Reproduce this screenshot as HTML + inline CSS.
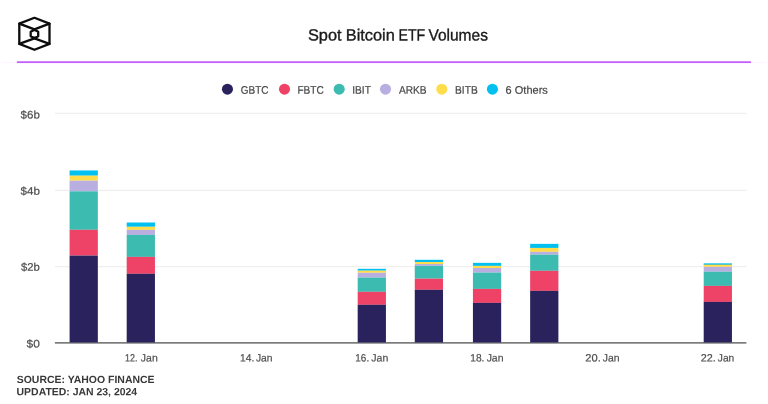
<!DOCTYPE html>
<html lang="en"><head><meta charset="utf-8"><title>Spot Bitcoin ETF Volumes</title>
<style>html,body{margin:0;padding:0;background:#fff;}body{width:768px;height:404px;overflow:hidden;}svg{display:block;}text{font-family:"Liberation Sans",Arial,sans-serif;}</style></head><body>
<svg width="768" height="404" viewBox="0 0 768 404">
<rect width="768" height="404" fill="#fff"/>
<rect x="1.5" y="62" width="765" height="1" fill="#fcf5fe"/>
<rect x="16.9" y="61.25" width="734" height="1.8" fill="#c45efd"/>
<g fill="none" stroke="#0d0d0d" stroke-width="2.3" stroke-linejoin="round" stroke-linecap="round">
<path d="M34.45 17.8 L49.5 23.6 L49.5 43.9 L34.45 49.8 L19.3 43.9 L19.3 23.6 Z"/>
<path d="M19.3 23.6 L34.45 29.3 L49.5 23.6"/>
<path d="M19.3 43.9 L34.45 38.4 L49.5 43.9"/>
<path d="M34.45 29.8 L38.2 31.7 L38.2 36.2 L34.45 38.1 L30.7 36.2 L30.7 31.7 Z"/>
</g>
<text y="40.5" transform="rotate(0.05 398 40.5)" font-size="16.2" fill="#1a1a1a" stroke="#1a1a1a" stroke-width="0.35"><tspan x="307.88" textLength="33.67" lengthAdjust="spacingAndGlyphs">Spot</tspan> <tspan x="345.78" textLength="49.06" lengthAdjust="spacingAndGlyphs">Bitcoin</tspan> <tspan x="398.50" textLength="26.79" lengthAdjust="spacingAndGlyphs">ETF</tspan> <tspan x="428.42" textLength="59.52" lengthAdjust="spacingAndGlyphs">Volumes</tspan></text>
<circle cx="227.45" cy="89.2" r="5.55" fill="#2a225d"/>
<text y="93.8" transform="rotate(0.05 240.8 93.8)" font-size="11" fill="#464646" stroke="#464646" stroke-width="0.2" x="240.83" textLength="27.62" lengthAdjust="spacingAndGlyphs">GBTC</text>
<circle cx="284.5" cy="89.2" r="5.55" fill="#ee4266"/>
<text y="93.8" transform="rotate(0.05 297.5 93.8)" font-size="11" fill="#464646" stroke="#464646" stroke-width="0.2" x="297.47" textLength="26.24" lengthAdjust="spacingAndGlyphs">FBTC</text>
<circle cx="339.2" cy="89.2" r="5.55" fill="#3cbbb1"/>
<text y="93.8" transform="rotate(0.05 352.3 93.8)" font-size="11" fill="#464646" stroke="#464646" stroke-width="0.2" x="352.30" textLength="18.49" lengthAdjust="spacingAndGlyphs">IBIT</text>
<circle cx="385.5" cy="89.2" r="5.55" fill="#b8aee0"/>
<text y="93.8" transform="rotate(0.05 398.9 93.8)" font-size="11" fill="#464646" stroke="#464646" stroke-width="0.2" x="398.88" textLength="27.73" lengthAdjust="spacingAndGlyphs">ARKB</text>
<circle cx="441.8" cy="89.2" r="5.55" fill="#ffdc4a"/>
<text y="93.8" transform="rotate(0.05 455.1 93.8)" font-size="11" fill="#464646" stroke="#464646" stroke-width="0.2" x="455.09" textLength="22.58" lengthAdjust="spacingAndGlyphs">BITB</text>
<circle cx="492.45" cy="89.2" r="5.55" fill="#00c0f0"/>
<text y="93.8" transform="rotate(0.05 505.6 93.8)" font-size="11" fill="#464646" stroke="#464646" stroke-width="0.2" x="505.62" textLength="42.18" lengthAdjust="spacingAndGlyphs">6 Others</text>
<rect x="54.9" y="112.8" width="691.5" height="1" fill="#ececec"/>
<rect x="54.9" y="189.8" width="691.5" height="1" fill="#ececec"/>
<rect x="54.9" y="266.2" width="691.5" height="1" fill="#ececec"/>
<text y="118.6" transform="rotate(0.05 20.6 118.6)" font-size="11" fill="#4e4e4e" stroke="#4e4e4e" stroke-width="0.2" x="20.60" textLength="19.26" lengthAdjust="spacingAndGlyphs">$6b</text>
<text y="194.65" transform="rotate(0.05 20.6 194.65)" font-size="11" fill="#4e4e4e" stroke="#4e4e4e" stroke-width="0.2" x="20.59" textLength="19.36" lengthAdjust="spacingAndGlyphs">$4b</text>
<text y="270.65" transform="rotate(0.05 21.0 270.65)" font-size="11" fill="#4e4e4e" stroke="#4e4e4e" stroke-width="0.2" x="20.99" textLength="18.83" lengthAdjust="spacingAndGlyphs">$2b</text>
<text y="347.6" transform="rotate(0.05 26.6 347.6)" font-size="11" fill="#4e4e4e" stroke="#4e4e4e" stroke-width="0.2" x="26.64" textLength="13.27" lengthAdjust="spacingAndGlyphs">$0</text>
<rect x="54.9" y="342.15" width="691.5" height="1.45" fill="#666"/>
<rect x="69.59" y="170.45" width="28.25" height="5.25" fill="#00c0f0"/>
<rect x="69.59" y="175.70" width="28.25" height="5.00" fill="#ffdc4a"/>
<rect x="69.59" y="180.70" width="28.25" height="10.60" fill="#b8aee0"/>
<rect x="69.59" y="191.30" width="28.25" height="38.50" fill="#3cbbb1"/>
<rect x="69.59" y="229.80" width="28.25" height="25.80" fill="#ee4266"/>
<rect x="69.59" y="255.60" width="28.25" height="86.85" fill="#2a225d"/>
<rect x="126.69" y="222.50" width="28.25" height="4.30" fill="#00c0f0"/>
<rect x="126.69" y="226.80" width="28.25" height="3.10" fill="#ffdc4a"/>
<rect x="126.69" y="229.90" width="28.25" height="5.00" fill="#b8aee0"/>
<rect x="126.69" y="234.90" width="28.25" height="22.00" fill="#3cbbb1"/>
<rect x="126.69" y="256.90" width="28.25" height="16.90" fill="#ee4266"/>
<rect x="126.69" y="273.80" width="28.25" height="68.65" fill="#2a225d"/>
<rect x="357.68" y="268.80" width="28.25" height="1.90" fill="#00c0f0"/>
<rect x="357.68" y="270.70" width="28.25" height="2.10" fill="#ffdc4a"/>
<rect x="357.68" y="272.80" width="28.25" height="4.80" fill="#b8aee0"/>
<rect x="357.68" y="277.60" width="28.25" height="14.20" fill="#3cbbb1"/>
<rect x="357.68" y="291.80" width="28.25" height="13.00" fill="#ee4266"/>
<rect x="357.68" y="304.80" width="28.25" height="37.65" fill="#2a225d"/>
<rect x="414.77" y="259.80" width="28.25" height="2.25" fill="#00c0f0"/>
<rect x="414.77" y="262.05" width="28.25" height="1.95" fill="#ffdc4a"/>
<rect x="414.77" y="264.00" width="28.25" height="1.85" fill="#b8aee0"/>
<rect x="414.77" y="265.85" width="28.25" height="12.80" fill="#3cbbb1"/>
<rect x="414.77" y="278.65" width="28.25" height="11.15" fill="#ee4266"/>
<rect x="414.77" y="289.80" width="28.25" height="52.65" fill="#2a225d"/>
<rect x="472.93" y="262.85" width="28.25" height="3.05" fill="#00c0f0"/>
<rect x="472.93" y="265.90" width="28.25" height="2.10" fill="#ffdc4a"/>
<rect x="472.93" y="268.00" width="28.25" height="4.60" fill="#b8aee0"/>
<rect x="472.93" y="272.60" width="28.25" height="16.30" fill="#3cbbb1"/>
<rect x="472.93" y="288.90" width="28.25" height="14.00" fill="#ee4266"/>
<rect x="472.93" y="302.90" width="28.25" height="39.55" fill="#2a225d"/>
<rect x="530.15" y="243.85" width="28.25" height="4.10" fill="#00c0f0"/>
<rect x="530.15" y="247.95" width="28.25" height="3.90" fill="#ffdc4a"/>
<rect x="530.15" y="251.85" width="28.25" height="2.85" fill="#b8aee0"/>
<rect x="530.15" y="254.70" width="28.25" height="16.10" fill="#3cbbb1"/>
<rect x="530.15" y="270.80" width="28.25" height="20.05" fill="#ee4266"/>
<rect x="530.15" y="290.85" width="28.25" height="51.60" fill="#2a225d"/>
<rect x="703.70" y="263.35" width="28.25" height="1.25" fill="#00c0f0"/>
<rect x="703.70" y="264.60" width="28.25" height="2.25" fill="#ffdc4a"/>
<rect x="703.70" y="266.85" width="28.25" height="4.85" fill="#b8aee0"/>
<rect x="703.70" y="271.70" width="28.25" height="14.20" fill="#3cbbb1"/>
<rect x="703.70" y="285.90" width="28.25" height="16.00" fill="#ee4266"/>
<rect x="703.70" y="301.90" width="28.25" height="40.55" fill="#2a225d"/>
<rect x="703.7" y="264" width="28.25" height="0.9" fill="#58c2b6"/>
<text y="361.5" transform="rotate(0.05 140.1 361.5)" font-size="10.7" fill="#4e4e4e" stroke="#4e4e4e" stroke-width="0.2"><tspan x="125.08" textLength="12.40" lengthAdjust="spacingAndGlyphs">12.</tspan> <tspan x="140.85" textLength="16.88" lengthAdjust="spacingAndGlyphs">Jan</tspan></text>
<text y="361.5" transform="rotate(0.05 255.0 361.5)" font-size="10.7" fill="#4e4e4e" stroke="#4e4e4e" stroke-width="0.2"><tspan x="239.97" textLength="14.26" lengthAdjust="spacingAndGlyphs">14.</tspan> <tspan x="255.92" textLength="16.60" lengthAdjust="spacingAndGlyphs">Jan</tspan></text>
<text y="361.5" transform="rotate(0.05 370.3 361.5)" font-size="10.7" fill="#4e4e4e" stroke="#4e4e4e" stroke-width="0.2"><tspan x="355.33" textLength="13.82" lengthAdjust="spacingAndGlyphs">16.</tspan> <tspan x="371.32" textLength="16.97" lengthAdjust="spacingAndGlyphs">Jan</tspan></text>
<text y="361.5" transform="rotate(0.05 485.3 361.5)" font-size="10.7" fill="#4e4e4e" stroke="#4e4e4e" stroke-width="0.2"><tspan x="470.30" textLength="14.15" lengthAdjust="spacingAndGlyphs">18.</tspan> <tspan x="486.63" textLength="16.88" lengthAdjust="spacingAndGlyphs">Jan</tspan></text>
<text y="361.5" transform="rotate(0.05 600.3 361.5)" font-size="10.7" fill="#4e4e4e" stroke="#4e4e4e" stroke-width="0.2"><tspan x="585.28" textLength="15.47" lengthAdjust="spacingAndGlyphs">20.</tspan> <tspan x="602.75" textLength="16.78" lengthAdjust="spacingAndGlyphs">Jan</tspan></text>
<text y="361.5" transform="rotate(0.05 715.8 361.5)" font-size="10.7" fill="#4e4e4e" stroke="#4e4e4e" stroke-width="0.2"><tspan x="700.76" textLength="15.02" lengthAdjust="spacingAndGlyphs">22.</tspan> <tspan x="717.81" textLength="16.42" lengthAdjust="spacingAndGlyphs">Jan</tspan></text>
<text y="383" transform="rotate(0.04 76.7 383)" font-size="10.45" font-weight="bold" fill="#383838" x="16.73" textLength="137.83" lengthAdjust="spacingAndGlyphs">SOURCE: YAHOO FINANCE</text>
<text y="395.3" transform="rotate(0.04 76.6 395.3)" font-size="10.45" font-weight="bold" fill="#383838" x="16.59" textLength="120.58" lengthAdjust="spacingAndGlyphs">UPDATED: JAN 23, 2024</text>
</svg></body></html>
